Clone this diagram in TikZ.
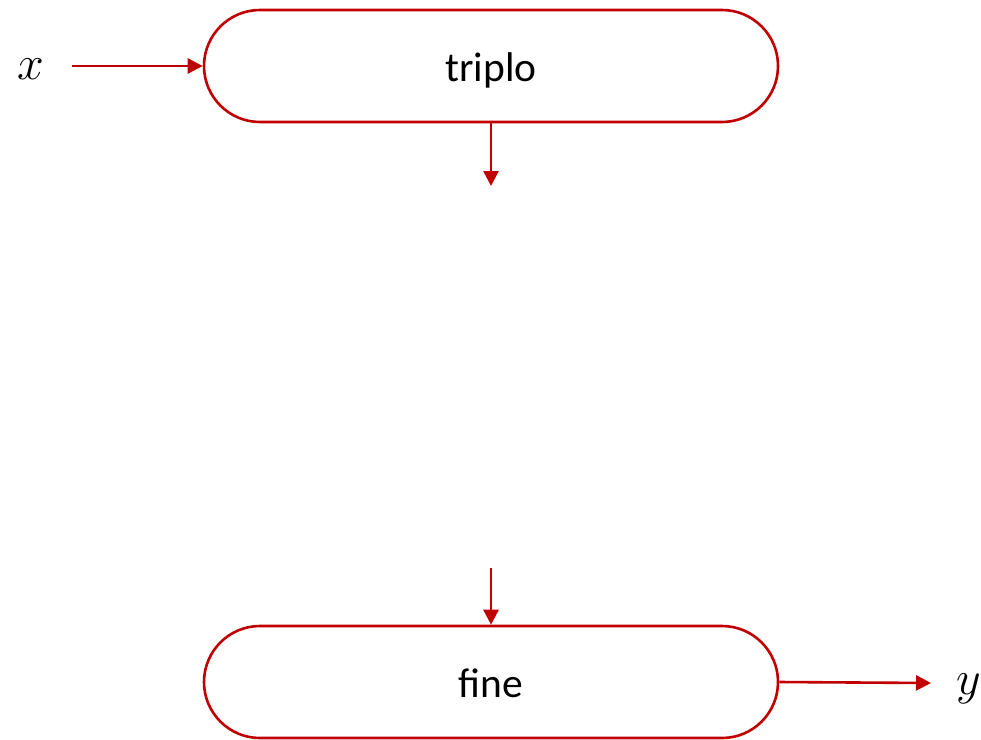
\RequirePackage{fix-cm}
\documentclass[tikz,border=0pt]{standalone}
\usepackage{fontspec}
\setmainfont{Carlito}
\usetikzlibrary{arrows.meta}
\definecolor{dred}{HTML}{C00000}
\begin{document}
\begin{tikzpicture}[x=1pt,y=-1pt,
  term/.style={draw=dred,line width=2.6pt,rounded corners=56pt,minimum width=574pt,minimum height=112pt,inner sep=0pt,text height=30pt,text depth=0pt,font=\fontsize{41.5}{46}\selectfont},
  conn/.style={draw=dred,line width=2.6pt,-{Triangle[length=15pt,width=15pt]}},
  var/.style={inner sep=0pt,font=\fontsize{48}{52}\selectfont}]
\useasboundingbox (0,0) rectangle (981,739);
\node[term] (t) at (491,66) {triplo};
\node[term] (f) at (491,682) {fine};
\node[var] (x) at (31,69) {$x$};
\node[var,anchor=west] (y) at (956,689) {$y$};
\coordinate (xs) at (72,66);
\coordinate (te) at (491,186);
\coordinate (fs) at (491,568);
\coordinate (ye) at (931,683);
\draw[conn] (xs) -- (t.west);
\draw[conn] (t.south) -- (te);
\draw[conn] (fs) -- (f.north);
\draw[conn] (f.east) -- (ye);
\end{tikzpicture}
\end{document}
